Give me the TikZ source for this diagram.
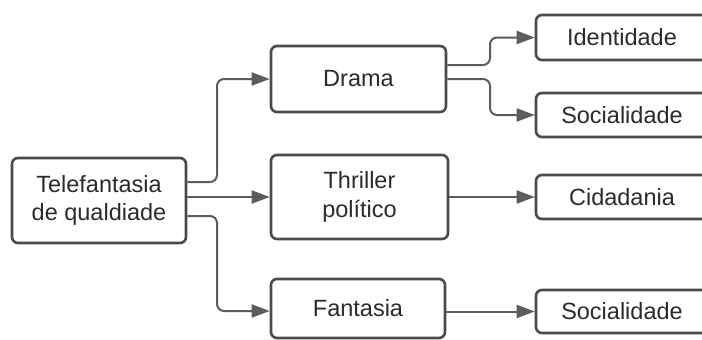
\documentclass[tikz,border=0pt]{standalone}
\usepackage{fontspec}
\setmainfont{Liberation Sans}
\usetikzlibrary{arrows.meta}
\definecolor{boxline}{HTML}{4A4A4A}
\definecolor{wire}{HTML}{5C5C5C}
\definecolor{ink}{HTML}{2B2B2B}
\tikzset{
  box/.style={draw=boxline, line width=2.6pt, rounded corners=6pt, fill=white,
    inner sep=0pt, align=center, text=ink,
    font=\fontsize{23.5}{28.5}\selectfont},
  link/.style={draw=wire, line width=2pt, rounded corners=7pt,
    -{Triangle[length=18pt,width=13pt]}}
}
\begin{document}
\begin{tikzpicture}[x=1pt,y=-1pt]
\useasboundingbox (0,0) rectangle (702,340);
\fill[white] (0,0) rectangle (702,340);

% first level
\node[box, minimum width=174pt, minimum height=85pt] (root) at (99,200.5)
  {Telefantasia\\de qualdiade};

% second level
\node[box, minimum width=175pt, minimum height=66pt] (drama) at (358.5,79) {Drama};
\node[box, minimum width=177pt, minimum height=84pt] (thr) at (359.5,197) {Thriller\\político};
\node[box, minimum width=174pt, minimum height=59pt] (fant) at (358,308.5) {Fantasia};

% third level (runs past the right edge)
\node[box, minimum width=172pt, minimum height=45pt] (ident) at (622,37.5) {Identidade};
\node[box, minimum width=172pt, minimum height=44pt] (soca) at (622,115) {Socialidade};
\node[box, minimum width=172pt, minimum height=44pt] (cid) at (622,197) {Cidadania};
\node[box, minimum width=172pt, minimum height=43pt] (socb) at (622,311.5) {Socialidade};

% connectors
\draw[link] (root.east |- 0,182) -- (217,182) -- (217,79) -- (drama.west);
\draw[link] (root.east |- 0,197) -- (thr.west |- 0,197);
\draw[link] (root.east |- 0,216) -- (217,216) -- (217,311) -- (fant.west |- 0,311);

\draw[link] (drama.east |- 0,65) -- (490,65) -- (490,37.5) -- (ident.west);
\draw[link] (drama.east |- 0,79) -- (490,79) -- (490,115) -- (soca.west);
\draw[link] (thr.east) -- (cid.west);
\draw[link] (fant.east |- 0,311.5) -- (socb.west);
\end{tikzpicture}
\end{document}
